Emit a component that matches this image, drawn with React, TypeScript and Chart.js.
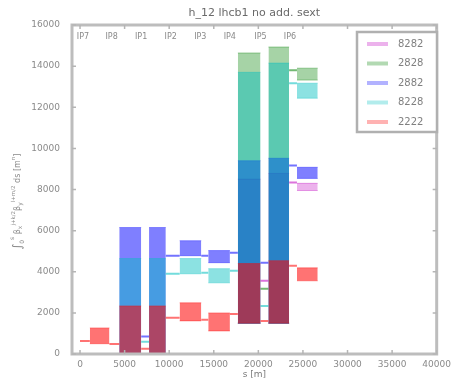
import React, { useEffect, useRef } from 'react';
import { Chart, registerables } from 'chart.js';
Chart.register(...registerables);

// ---------- data ----------
const titleText = 'h_12 lhcb1 no add. sext';
const xAxisLabel = 's [m]';
const seriesLabels = ['8282', '2828', '2882', '8228', '2222'];

const xTickValues = [0, 5000, 10000, 15000, 20000, 25000, 30000, 35000, 40000];
const yTickValues = [0, 2000, 4000, 6000, 8000, 10000, 12000, 14000, 16000];

const ipNames = ['IP7', 'IP8', 'IP1', 'IP2', 'IP3', 'IP4', 'IP5', 'IP6'];
const ipPositions = [330, 3540, 6850, 10170, 13490, 16800, 20230, 23550];

// straight sections (flat line parts)
const sectionStart = [0, 3300, 6860, 9620, 13600, 16810, 20240, 23450];
const sectionEnd = [1100, 4400, 7740, 11170, 14380, 17700, 21130, 24330];
// arcs (dense oscillating parts)
const arcStart = [1100, 4400, 7740, 11170, 14380, 17700, 21130, 24330];
const arcEnd = [3300, 6860, 9620, 13600, 16810, 20240, 23450, 26659];

const magentaLine = [0, 0, 0, 0, 0, 0, 3560, 8340];
const magentaLow = [0, 0, 0, 0, 0, 1500, 1500, 7950];
const magentaHigh = [0, 0, 0, 0, 0, 8500, 8780, 8300];

const greenLine = [0, 0, 0, 0, 0, 0, 3170, 13800];
const greenLow = [0, 0, 0, 0, 0, 1500, 1500, 13320];
const greenHigh = [0, 0, 0, 0, 0, 14640, 14930, 13900];

const blueLine = [0, 0, 850, 4780, 4780, 4930, 4440, 9170];
const blueLow = [0, 0, 0, 4780, 4440, 1500, 1500, 8540];
const blueHigh = [0, 6150, 6150, 5510, 5030, 9400, 9520, 9080];

const cyanLine = [0, 0, 600, 3900, 3950, 4050, 2340, 13170];
const cyanLow = [0, 0, 0, 3900, 3460, 1500, 1500, 12440];
const cyanHigh = [0, 4640, 4640, 4640, 4150, 13700, 14150, 13170];

const redLine = [634, 490, 250, 1760, 1660, 1950, 1610, 4290];
const redLow = [500, 0, 0, 1610, 1120, 1500, 1500, 3560];
const redHigh = [1270, 2340, 2340, 2490, 2000, 4400, 4540, 4190];

// ---------- styles ----------
const FONT = '"DejaVu Sans", sans-serif';
const seriesRGB = ['191,0,191', '0,128,0', '0,0,255', '0,191,191', '255,0,0'];
const fillAlpha = [0.3, 0.35, 0.5, 0.45, 0.55];

function linePoints(vals: number[]) {
  const pts: any[] = [];
  vals.forEach((v, i) => {
    pts.push({ x: sectionStart[i], y: v });
    pts.push({ x: sectionEnd[i], y: v });
    pts.push({ x: sectionEnd[i] + 1, y: null });
  });
  return pts;
}

function bandPoints(vals: number[]) {
  const pts: any[] = [];
  vals.forEach((v, i) => {
    pts.push({ x: arcStart[i], y: v });
    pts.push({ x: arcEnd[i], y: v });
    pts.push({ x: arcEnd[i] + 1, y: null });
  });
  return pts;
}

const allSeries = [
  { line: magentaLine, low: magentaLow, high: magentaHigh },
  { line: greenLine, low: greenLow, high: greenHigh },
  { line: blueLine, low: blueLow, high: blueHigh },
  { line: cyanLine, low: cyanLow, high: cyanHigh },
  { line: redLine, low: redLow, high: redHigh },
];

function buildDatasets() {
  const ds: any[] = [];
  // first dataset is drawn on top -> red first
  for (let k = allSeries.length - 1; k >= 0; k--) {
    const s = allSeries[k];
    const rgb = seriesRGB[k];
    ds.push({
      label: seriesLabels[k],
      data: linePoints(s.line),
      borderColor: `rgba(${rgb},0.55)`,
      borderWidth: 2,
      pointRadius: 0,
      fill: false,
      spanGaps: false,
    });
    ds.push({
      label: seriesLabels[k] + ' hi',
      data: bandPoints(s.high),
      borderColor: `rgba(${rgb},0.35)`,
      borderWidth: 1,
      backgroundColor: `rgba(${rgb},${fillAlpha[k]})`,
      pointRadius: 0,
      fill: '+1',
      spanGaps: false,
    });
    ds.push({
      label: seriesLabels[k] + ' lo',
      data: bandPoints(s.low),
      borderColor: `rgba(${rgb},0.35)`,
      borderWidth: 1,
      pointRadius: 0,
      fill: false,
      spanGaps: false,
    });
  }
  return ds;
}

const overlayPlugin = {
  id: 'overlay',
  afterDraw(chart: any) {
    const { ctx, chartArea: a, scales } = chart;
    const xs = scales.x;
    const ys = scales.y;
    ctx.save();
    // frame
    ctx.strokeStyle = '#bdbdbd';
    ctx.lineWidth = 3;
    ctx.strokeRect(a.left, a.top, a.right - a.left, a.bottom - a.top);
    // inward ticks
    ctx.lineWidth = 1.5;
    ctx.strokeStyle = '#b5b5b5';
    xTickValues.forEach((v) => {
      const px = xs.getPixelForValue(v);
      ctx.beginPath();
      ctx.moveTo(px, a.bottom);
      ctx.lineTo(px, a.bottom - 4);
      ctx.moveTo(px, a.top);
      ctx.lineTo(px, a.top + 4);
      ctx.stroke();
    });
    yTickValues.forEach((v) => {
      const py = ys.getPixelForValue(v);
      ctx.beginPath();
      ctx.moveTo(a.left, py);
      ctx.lineTo(a.left + 4, py);
      ctx.moveTo(a.right, py);
      ctx.lineTo(a.right - 4, py);
      ctx.stroke();
    });
    // IP labels
    ctx.fillStyle = '#8a8a8a';
    ctx.font = `8px ${FONT}`;
    ctx.textAlign = 'center';
    ctx.textBaseline = 'middle';
    ipNames.forEach((n, i) => {
      ctx.fillText(n, xs.getPixelForValue(ipPositions[i]), a.top + 12);
    });
    // title
    ctx.fillStyle = '#6a6a6a';
    ctx.font = `11px ${FONT}`;
    ctx.fillText(titleText, (a.left + a.right) / 2, 13);
    // x label
    ctx.font = `9px ${FONT}`;
    ctx.fillStyle = '#7a7a7a';
    ctx.fillText(xAxisLabel, (a.left + a.right) / 2, 375);
    // y label (rich text, rotated), reads bottom to top
    const segs = [
      { t: '\u222B', s: 12, dy: 0 },
      { t: '0', s: 6, dy: 4 },
      { t: 's', s: 6, dy: -6 },
      { t: ' \u03B2', s: 8, dy: 0 },
      { t: 'x', s: 6, dy: 2 },
      { t: 'j+k/2', s: 5.5, dy: -4 },
      { t: '\u03B2', s: 8, dy: 0 },
      { t: 'y', s: 6, dy: 2 },
      { t: 'l+m/2', s: 5.5, dy: -4 },
      { t: ' ds [m', s: 8, dy: 0 },
      { t: 'n', s: 5.5, dy: -4 },
      { t: ']', s: 8, dy: 0 },
    ];
    ctx.save();
    ctx.setTransform(0, -1, 1, 0, 18, 250);
    ctx.textAlign = 'left';
    ctx.textBaseline = 'middle';
    ctx.fillStyle = '#8a8a8a';
    let x = 0;
    segs.forEach((g) => {
      ctx.font = `${g.s}px ${FONT}`;
      ctx.fillText(g.t, x, g.dy);
      x += ctx.measureText(g.t).width;
    });
    ctx.restore();
    // legend
    const lx = 357, ly = 32, lw = 80, lh = 100;
    ctx.fillStyle = '#ffffff';
    ctx.fillRect(lx, ly, lw, lh);
    ctx.strokeStyle = '#b0b0b0';
    ctx.lineWidth = 2.5;
    ctx.strokeRect(lx, ly, lw, lh);
    const rowY = [44, 63.5, 83, 102.5, 122];
    ctx.font = `10px ${FONT}`;
    ctx.textAlign = 'left';
    ctx.textBaseline = 'middle';
    seriesLabels.forEach((lab, i) => {
      ctx.strokeStyle = `rgba(${seriesRGB[i]},0.3)`;
      ctx.lineWidth = 4;
      ctx.beginPath();
      ctx.moveTo(367, rowY[i]);
      ctx.lineTo(388, rowY[i]);
      ctx.stroke();
      ctx.fillStyle = '#808080';
      ctx.fillText(lab, 398, rowY[i]);
    });
    ctx.restore();
  },
};

export default function App() {
  const ref = useRef<HTMLCanvasElement | null>(null);
  useEffect(() => {
    document.body.style.margin = '0';
    const chart = new Chart(ref.current as HTMLCanvasElement, {
      type: 'line',
      data: { datasets: buildDatasets() },
      options: {
        animation: false,
        responsive: false,
        devicePixelRatio: 1,
        layout: { padding: { left: 0, right: 14, top: 25, bottom: 0 } },
        plugins: {
          legend: { display: false },
          tooltip: { enabled: false },
          title: { display: false },
        },
        elements: { line: { tension: 0 } },
        scales: {
          x: {
            type: 'linear',
            min: -900,
            max: 40000,
            grid: { display: false, drawTicks: false },
            border: { display: false },
            afterBuildTicks: (s: any) => {
              s.ticks = xTickValues.map((v) => ({ value: v }));
            },
            afterFit: (s: any) => {
              s.height = 28;
            },
            ticks: {
              autoSkip: false,
              maxRotation: 0,
              padding: 5,
              color: '#8a8a8a',
              font: { family: FONT, size: 9 },
              callback: (v: any) => String(v),
            },
          },
          y: {
            type: 'linear',
            min: 0,
            max: 16000,
            grid: { display: false },
            border: { display: false },
            afterBuildTicks: (s: any) => {
              s.ticks = yTickValues.map((v) => ({ value: v }));
            },
            afterFit: (s: any) => {
              s.width = 72;
            },
            ticks: {
              autoSkip: false,
              padding: 4,
              color: '#8a8a8a',
              font: { family: FONT, size: 9 },
              callback: (v: any) => String(v),
            },
          },
        },
      },
      plugins: [overlayPlugin],
    });
    return () => chart.destroy();
  }, []);
  return <canvas ref={ref} width={456} height={382} style={{ display: 'block', width: 456, height: 382 }} />;
}
